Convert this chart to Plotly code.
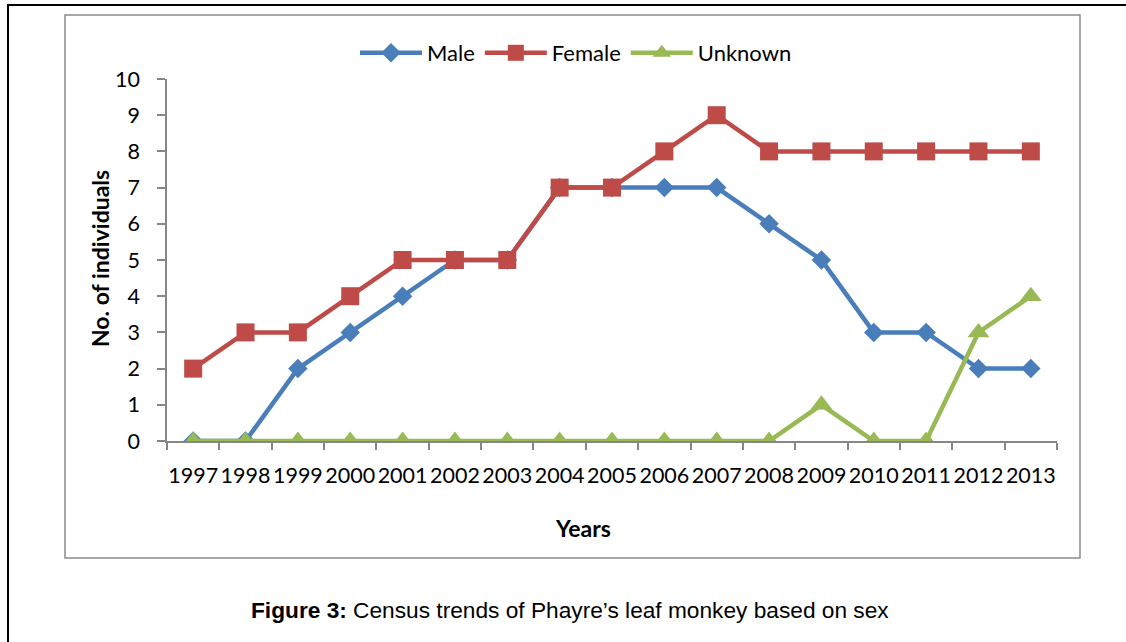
import plotly.graph_objects as go

# Census counts of Phayre's leaf monkey by sex, 1997-2013
years = ["1997", "1998", "1999", "2000", "2001", "2002", "2003", "2004", "2005",
         "2006", "2007", "2008", "2009", "2010", "2011", "2012", "2013"]
male = [0, 0, 2, 3, 4, 5, 5, 7, 7, 7, 7, 6, 5, 3, 3, 2, 2]
female = [2, 3, 3, 4, 5, 5, 5, 7, 7, 8, 9, 8, 8, 8, 8, 8, 8]
unknown = [0, 0, 0, 0, 0, 0, 0, 0, 0, 0, 0, 0, 1, 0, 0, 3, 4]
y_ticks = list(range(0, 11))

W, H = 1126, 642
FONT = "Lato, 'Open Sans', sans-serif"
AXIS_GREY = "#868686"
TICK_SIZE = 21.5


def px_x(v):
    return v / W


def px_y(v):
    return 1 - v / H


fig = go.Figure()
fig.add_trace(go.Scatter(
    x=years, y=male, name="Male", mode="lines+markers",
    line=dict(color="#4A7EBB", width=4.5),
    marker=dict(symbol="diamond", size=15, color="#4A7EBB"),
))
fig.add_trace(go.Scatter(
    x=years, y=female, name="Female", mode="lines+markers",
    line=dict(color="#BE4B48", width=4.5),
    marker=dict(symbol="square", size=18, color="#BE4B48"),
))
fig.add_trace(go.Scatter(
    x=years, y=unknown, name="Unknown", mode="lines+markers",
    line=dict(color="#98B954", width=4.5),
    marker=dict(symbol="triangle-up", size=19, color="#98B954"),
))

fig.update_layout(
    width=W, height=H,
    margin=dict(l=0, r=0, t=0, b=0, pad=0, autoexpand=False),
    paper_bgcolor="white", plot_bgcolor="white",
    font=dict(family=FONT, size=20, color="black"),
    showlegend=True,
    legend=dict(
        orientation="h", x=px_x(576), y=px_y(53),
        xanchor="center", yanchor="middle",
        font=dict(family=FONT, size=22, color="black"),
        itemwidth=62, tracegroupgap=0,
        bgcolor="rgba(0,0,0,0)",
    ),
    xaxis=dict(
        type="category", domain=[px_x(167), px_x(1057)],
        range=[-0.5, len(years) - 0.5],
        tickmode="array", tickvals=years, ticktext=years,
        tickson="boundaries", ticks="outside", ticklen=7,
        tickcolor=AXIS_GREY, tickwidth=1.5, tickangle=0,
        showline=True, linecolor=AXIS_GREY, linewidth=1.5,
        showgrid=False, zeroline=False, automargin=False,
        tickfont=dict(family=FONT, size=TICK_SIZE, color="black"),
        ticklabelstandoff=14,
    ),
    yaxis=dict(
        domain=[px_y(441), px_y(79)], range=[0, 10],
        tickmode="array", tickvals=y_ticks,
        ticks="outside", ticklen=8, tickcolor=AXIS_GREY, tickwidth=1.5,
        showline=True, linecolor=AXIS_GREY, linewidth=1.5,
        showgrid=False, zeroline=False, automargin=False,
        tickfont=dict(family=FONT, size=TICK_SIZE, color="black"),
        ticklabelstandoff=13,
    ),
    shapes=[
        # outer page frame
        dict(type="rect", xref="paper", yref="paper",
             x0=px_x(8), x1=px_x(1140), y0=px_y(660), y1=px_y(5),
             line=dict(color="black", width=2), fillcolor="rgba(0,0,0,0)",
             layer="below"),
        # chart area border
        dict(type="rect", xref="paper", yref="paper",
             x0=px_x(65), x1=px_x(1080), y0=px_y(558), y1=px_y(15),
             line=dict(color="#8C8C8C", width=1.5), fillcolor="rgba(0,0,0,0)",
             layer="below"),
    ],
    annotations=[
        dict(text="<b>No. of individuals</b>", xref="paper", yref="paper",
             x=px_x(100), y=px_y(259), textangle=-90, showarrow=False,
             xanchor="center", yanchor="middle",
             font=dict(family=FONT, size=23, color="black")),
        dict(text="<b>Years</b>", xref="paper", yref="paper",
             x=px_x(583), y=px_y(528), showarrow=False,
             xanchor="center", yanchor="middle",
             font=dict(family=FONT, size=23, color="black")),
        dict(text="<b>Figure 3:</b> Census trends of Phayre\u2019s leaf monkey based on sex",
             xref="paper", yref="paper",
             x=px_x(570), y=px_y(610), showarrow=False,
             xanchor="center", yanchor="middle",
             font=dict(family="'Liberation Sans Narrow', 'Arial Narrow', 'Liberation Sans', sans-serif",
                       size=22.7, color="black")),
    ],
)

fig.write_html("out.html")
